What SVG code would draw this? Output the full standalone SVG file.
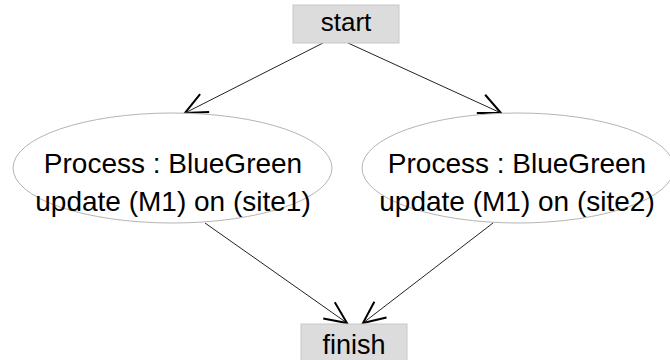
<svg xmlns="http://www.w3.org/2000/svg" width="670" height="360" viewBox="0 0 670 360">
<defs>
<style>
.box{fill:#dcdcdc;stroke:#c8c8c8;stroke-width:1}
.ell{fill:#ffffff;stroke:#b4b4b4;stroke-width:1}
.lbl{font-family:"Liberation Sans",Arial,sans-serif;fill:#000;text-anchor:middle}
.edge{fill:none;stroke:#222;stroke-width:1;marker-end:url(#arr)}
</style>
<marker id="arr" markerUnits="userSpaceOnUse" markerWidth="30" markerHeight="30" viewBox="-26 -13 30 26" refX="0" refY="0" orient="auto">
<path d="M -22 -10 L 0 0 L -22 10" fill="none" stroke="#000" stroke-width="2"/>
</marker>
</defs>
<rect width="670" height="360" fill="#ffffff"/>
<g id="connectors">
<line class="edge" x1="323" y1="43" x2="185" y2="113"/>
<line class="edge" x1="348" y1="43" x2="501" y2="113"/>
<line class="edge" x1="205" y1="223" x2="347" y2="323"/>
<line class="edge" x1="493" y1="223" x2="363" y2="323"/>
</g>
<g id="start">
<rect class="box" x="293" y="5" width="106" height="38"/>
<text class="lbl" x="346" y="31" font-size="26">start</text>
</g>
<g id="site1">
<ellipse class="ell" cx="172.5" cy="168" rx="159.5" ry="55"/>
<text class="lbl" x="173" y="173" font-size="28">Process : BlueGreen</text>
<text class="lbl" x="173" y="211" font-size="28">update (M1) on (site1)</text>
</g>
<g id="site2">
<ellipse class="ell" cx="518" cy="168" rx="156" ry="55"/>
<text class="lbl" x="517" y="173" font-size="28">Process : BlueGreen</text>
<text class="lbl" x="517" y="211" font-size="28">update (M1) on (site2)</text>
</g>
<g id="finish">
<rect class="box" x="301" y="324" width="106" height="38"/>
<text class="lbl" x="354" y="354" font-size="27">finish</text>
</g>
</svg>
